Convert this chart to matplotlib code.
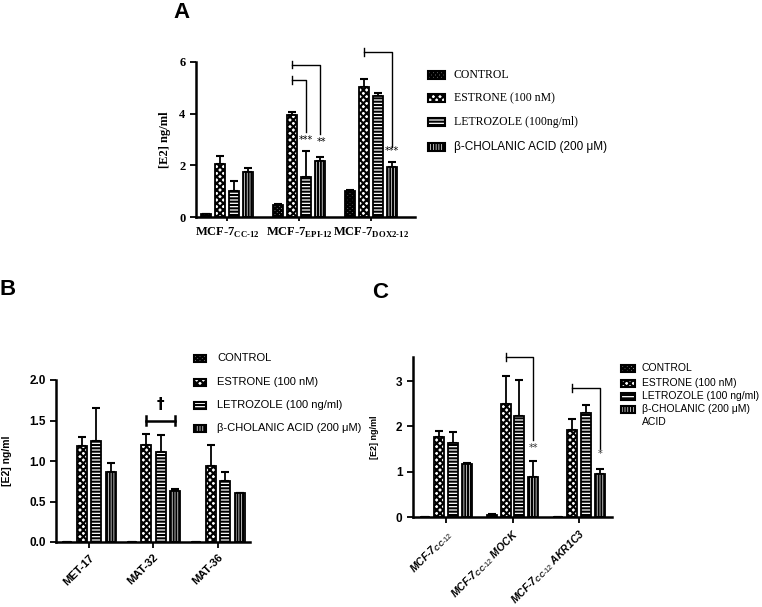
import numpy as np
import matplotlib
matplotlib.use('Agg')
import matplotlib.pyplot as plt
from matplotlib.patches import Rectangle

plt.rcParams['mathtext.fontset'] = 'custom'
plt.rcParams['mathtext.bf'] = 'Liberation Serif:bold'
plt.rcParams['mathtext.it'] = 'Liberation Sans:italic:bold'
plt.rcParams['mathtext.rm'] = 'Liberation Sans'
plt.rcParams['hatch.linewidth'] = 1.5

W, H = 762, 607

# ---- data ----
treatments = ['CONTROL', 'ESTRONE', 'LETROZOLE', 'CHOLANIC']
hatches = ['xxxxxxxx', 'xxxxx', '-----', '||||||']

a_groups = [r'MCF-7$_{\mathbf{CC}\text{-}\mathbf{12}}$',
            r'MCF-7$_{\mathbf{EPI}\text{-}\mathbf{12}}$',
            r'MCF-7$_{\mathbf{DOX2}\text{-}\mathbf{12}}$']
a_means = [[0.10, 0.48, 1.00],
           [2.05, 3.95, 5.05],
           [1.00, 1.55, 4.70],
           [1.75, 2.15, 1.95]]
a_err = [[0.03, 0.03, 0.03],
         [0.30, 0.10, 0.28],
         [0.40, 1.00, 0.10],
         [0.15, 0.18, 0.18]]

b_groups = ['MET-17', 'MAT-32', 'MAT-36']
b_means = [[0.0, 0.0, 0.0],
           [1.18, 1.20, 0.94],
           [1.25, 1.11, 0.75],
           [0.87, 0.63, 0.61]]
b_err = [[0.0, 0.0, 0.0],
         [0.12, 0.13, 0.26],
         [0.40, 0.21, 0.12],
         [0.11, 0.03, 0.0]]

c_groups = [r'MCF-7$_{\mathit{CC}\text{-}\mathit{12}}$',
            r'MCF-7$_{\mathit{CC}\text{-}\mathit{12}}$ MOCK',
            r'MCF-7$_{\mathit{CC}\text{-}\mathit{12}}$ AKR1C3']
c_means = [[0.0, 0.05, 0.0],
           [1.77, 2.50, 1.93],
           [1.63, 2.23, 2.30],
           [1.17, 0.88, 0.95]]
c_err = [[0.0, 0.02, 0.0],
         [0.13, 0.60, 0.23],
         [0.25, 0.80, 0.17],
         [0.02, 0.35, 0.12]]


def rect(l, t, r, b):
    return [l / W, 1 - b / H, (r - l) / W, (b - t) / H]


def bars(ax, means, errs, step, width):
    x = np.arange(3)
    for i in range(4):
        xs = x + (i - 1.5) * step
        ax.bar(xs, means[i], width, color='white', edgecolor='black',
               hatch=hatches[i], linewidth=1.3, zorder=2)
        ax.errorbar(xs, means[i], yerr=[np.zeros(3), errs[i]], fmt='none',
                    ecolor='black', elinewidth=1.3, capsize=3, capthick=1.5, zorder=1)


def style(ax):
    for s in ['top', 'right']:
        ax.spines[s].set_visible(False)
    for s in ['left', 'bottom']:
        ax.spines[s].set_linewidth(1.8)
        ax.spines[s].set_zorder(3)
    ax.tick_params(width=1.3, length=4)


def legend(x0, ys, labels, fams, size, pw, ph, tx):
    for y, lab, h, fam in zip(ys, labels, hatches, fams):
        fig.add_artist(Rectangle((x0 / W, 1 - (y + ph / 2) / H), pw / W, ph / H,
                                 transform=fig.transFigure, facecolor='white',
                                 edgecolor='black', hatch=h, linewidth=1.5))
        fig.text(tx / W, 1 - y / H, lab, fontsize=size, family=fam, va='center')


def bracket(ax, x1, x2, ytop, ybot, tick):
    ax.plot([x1, x1], [ytop - tick, ytop + tick], color='black', lw=1, clip_on=False)
    ax.plot([x1, x2, x2], [ytop, ytop, ybot], color='black', lw=1, clip_on=False)


def fonts(labels, fam, size, style='normal'):
    for t in labels:
        t.set_family(fam)
        t.set_fontweight('bold')
        t.set_fontsize(size)
        t.set_style(style)


fig = plt.figure(figsize=(W / 100, H / 100), dpi=100)

# ---- panel A ----
ax = fig.add_axes(rect(196, 62, 415, 217))
sa = 14 / 72
bars(ax, a_means, a_err, sa, 10 / 72)
style(ax)
ax.set_xlim(-0.43, 2.61)
ax.set_ylim(0, 6)
ax.set_yticks([0, 2, 4, 6])
ax.set_xticks(range(3))
ax.set_xticklabels(a_groups)
fonts(ax.get_xticklabels(), 'Liberation Serif', 9)
fonts(ax.get_yticklabels(), 'Liberation Serif', 9)
ax.tick_params(axis='x', length=3)
ax.set_ylabel('[E2] ng/ml', family='Liberation Serif', fontweight='bold', fontsize=9, labelpad=6)

e = -0.5 * sa
l = 0.5 * sa
c = 1.5 * sa
bracket(ax, 1 + e, 1 + l, 5.3, 3.3, 0.15)
bracket(ax, 1 + e, 1 + c, 5.9, 3.2, 0.15)
bracket(ax, 2 + e, 2 + c, 6.4, 2.7, 0.15)
ax.text(1 + l, 3.0, '***', ha='center', va='center', fontsize=7)
ax.text(1 + c + 0.02, 2.9, '**', ha='center', va='center', fontsize=7)
ax.text(2 + c, 2.55, '***', ha='center', va='center', fontsize=7)

legend(428, [75, 98, 122, 147],
       ['CONTROL', 'ESTRONE (100 nM)', 'LETROZOLE (100ng/ml)', 'β-CHOLANIC ACID (200 μM)'],
       ['Liberation Serif', 'Liberation Serif', 'Liberation Serif', 'Liberation Sans'],
       8.5, 17, 8, 454)

# ---- panel B ----
ax = fig.add_axes(rect(56, 380, 250, 542))
sb = 14.5 / 64.5
bars(ax, b_means, b_err, sb, 10 / 64.5)
style(ax)
ax.set_xlim(-0.51, 2.5)
ax.set_ylim(0, 2.0)
ax.set_yticks([0, 0.5, 1.0, 1.5, 2.0])
ax.set_yticklabels(['0.0', '0.5', '1.0', '1.5', '2.0'])
ax.set_xticks(range(3))
ax.set_xticklabels(b_groups, rotation=45, ha='right', rotation_mode='anchor')
fonts(ax.get_xticklabels(), 'Liberation Sans', 8)
fonts(ax.get_yticklabels(), 'Liberation Sans', 8.5)
ax.set_ylabel('[E2] ng/ml', family='Liberation Sans', fontweight='bold', fontsize=7.5, labelpad=12)
x1, x2 = 1 - 0.5 * sb, 1 + 1.5 * sb
ax.plot([x1, x2], [1.5, 1.5], color='black', lw=1.8)
ax.plot([x1, x1], [1.45, 1.55], color='black', lw=1.8)
ax.plot([x2, x2], [1.45, 1.55], color='black', lw=1.8)
ax.text(1 + 0.5 * sb, 1.7, '†', ha='center', va='center', fontsize=11, fontweight='bold')

legend(194, [358, 382, 405, 428],
       ['CONTROL', 'ESTRONE (100 nM)', 'LETROZOLE (100 ng/ml)', 'β-CHOLANIC ACID (200 μM)'],
       ['Liberation Sans'] * 4, 8, 12, 7, 217)

# ---- panel C ----
ax = fig.add_axes(rect(413, 357, 612, 517))
sc = 14 / 66.5
bars(ax, c_means, c_err, sc, 10 / 66.5)
style(ax)
ax.set_xlim(-0.5, 2.5)
ax.set_ylim(0, 3.53)
ax.set_yticks([0, 1, 2, 3])
ax.set_xticks(range(3))
ax.set_xticklabels(c_groups, rotation=45, ha='right', rotation_mode='anchor')
fonts(ax.get_xticklabels(), 'Liberation Sans', 7.5, 'italic')
fonts(ax.get_yticklabels(), 'Liberation Sans', 8.5)
ax.set_ylabel('[E2] ng/ml', family='Liberation Sans', fontweight='bold', fontsize=6.5, labelpad=12)
bracket(ax, 1 - 0.5 * sc, 1 + 1.5 * sc, 3.53, 1.7, 0.09)
bracket(ax, 2 - 0.5 * sc, 2 + 1.5 * sc, 2.85, 1.5, 0.09)
ax.text(1 + 1.5 * sc, 1.52, '**', ha='center', va='center', fontsize=7, color='#333333')
ax.text(2 + 1.5 * sc, 1.38, '*', ha='center', va='center', fontsize=7, color='#333333')

legend(621, [368, 383, 396, 409],
       ['CONTROL', 'ESTRONE (100 nM)', 'LETROZOLE (100 ng/ml)', 'β-CHOLANIC (200 μM)'],
       ['Liberation Sans'] * 4, 7.5, 14, 7, 642)
fig.text(642 / W, 1 - 422 / H, 'ACID', fontsize=7.5, family='Liberation Sans', va='center')

# panel letters
fig.text(181 / W, 1 - 12 / H, 'A', fontsize=16, fontweight='bold', family='Liberation Sans', ha='center', va='center')
fig.text(8 / W, 1 - 289 / H, 'B', fontsize=16, fontweight='bold', family='Liberation Sans', ha='center', va='center')
fig.text(380 / W, 1 - 292 / H, 'C', fontsize=16, fontweight='bold', family='Liberation Sans', ha='center', va='center')

fig.savefig('out.png', dpi=100)
